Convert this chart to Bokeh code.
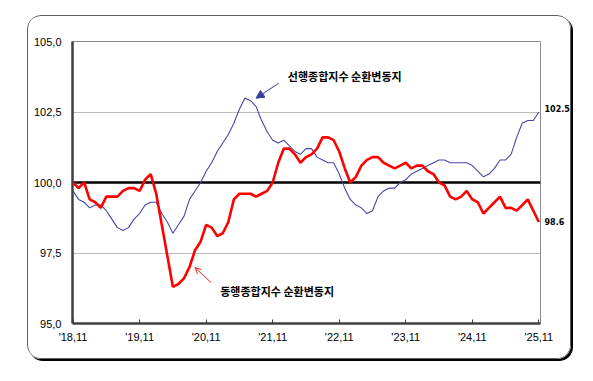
from bokeh.plotting import figure
from bokeh.models import FixedTicker, Span, Label, Arrow, NormalHead, OpenHead, ColumnDataSource, LinearAxis
from bokeh.embed import file_html
from bokeh.resources import INLINE

# ---- data (monthly, 2018.11 .. 2025.11) ----
coincident = [100.0, 99.8, 100.0, 99.4, 99.3, 99.1, 99.5, 99.5, 99.5, 99.7,
              99.8, 99.8, 99.7, 100.1, 100.3, 99.6, 98.5, 97.4, 96.3, 96.4,
              96.6, 97.0, 97.6, 97.9, 98.5, 98.4, 98.1, 98.2, 98.6, 99.4,
              99.6, 99.6, 99.6, 99.5, 99.6, 99.7, 100.0, 100.7, 101.2, 101.2,
              101.0, 100.7, 100.9, 101.0, 101.2, 101.6, 101.6, 101.5, 101.1, 100.5,
              100.0, 100.2, 100.6, 100.8, 100.9, 100.9, 100.7, 100.6, 100.5, 100.6,
              100.7, 100.5, 100.6, 100.6, 100.4, 100.3, 100.0, 99.9, 99.5, 99.4,
              99.5, 99.7, 99.4, 99.3, 98.9, 99.1, 99.3, 99.5, 99.1, 99.1,
              99.0, 99.2, 99.4, 99.0, 98.6]
leading = [99.7, 99.4, 99.3, 99.1, 99.2, 99.2, 99.0, 98.7, 98.4, 98.3,
           98.4, 98.7, 98.9, 99.2, 99.3, 99.3, 98.9, 98.6, 98.2, 98.5,
           98.8, 99.4, 99.7, 100.0, 100.4, 100.7, 101.1, 101.4, 101.7, 102.1,
           102.6, 103.0, 102.9, 102.7, 102.2, 101.8, 101.5, 101.4, 101.5, 101.3,
           101.1, 101.0, 101.2, 101.2, 100.9, 100.8, 100.7, 100.7, 100.3, 99.8,
           99.4, 99.2, 99.1, 98.9, 99.0, 99.5, 99.7, 99.8, 99.8, 100.0,
           100.1, 100.3, 100.4, 100.5, 100.6, 100.7, 100.8, 100.8, 100.7, 100.7,
           100.7, 100.7, 100.6, 100.4, 100.2, 100.3, 100.5, 100.8, 100.8, 101.0,
           101.6, 102.1, 102.2, 102.2, 102.5]
month_index = list(range(len(coincident)))

x_tick_positions = [0, 12, 24, 36, 48, 60, 72, 84]
x_tick_labels = ["'18,11", "'19,11", "'20,11", "'21,11", "'22,11", "'23,11", "'24,11", "'25,11"]
y_tick_values = [95.0, 97.5, 100.0, 102.5, 105.0]
y_tick_labels = ["95,0", "97,5", "100,0", "102,5", "105,0"]
leading_name = "선행종합지수 순환변동지"
coincident_name = "동행종합지수 순환변동지"

source = ColumnDataSource(data=dict(x=month_index, lead=leading, coin=coincident))

p = figure(width=544, height=344, x_range=(-0.1, 84.3), y_range=(95, 105),
           output_backend="svg", toolbar_location=None,
           min_border_left=44, min_border_right=31, min_border_top=25, min_border_bottom=37)
p.styles = {"border": "1px solid #606060", "border-radius": "14px",
            "box-shadow": "2px 2px 0px 0px #000000", "overflow": "hidden",
            "transform": "translate(27px, 15px)"}
p.border_fill_color = "white"
p.background_fill_color = "white"
p.outline_line_color = "#8c8c8c"
p.outline_line_width = 1

# axes
p.xaxis.ticker = FixedTicker(ticks=x_tick_positions)
p.xaxis.major_label_overrides = {t: l for t, l in zip(x_tick_positions, x_tick_labels)}
p.xaxis.axis_line_color = "#404040"
p.xaxis.axis_line_width = 2.5
p.xaxis.major_tick_in = 4
p.xaxis.major_tick_out = 0
p.xaxis.major_tick_line_color = "#404040"
p.xaxis.minor_tick_line_color = None
p.xaxis.major_label_standoff = 7
p.xaxis.major_label_text_font = "Liberation Sans"
p.xaxis.major_label_text_font_size = "11px"
p.xaxis.major_label_text_color = "black"

p.yaxis.ticker = FixedTicker(ticks=y_tick_values)
p.yaxis.major_label_overrides = {t: l for t, l in zip(y_tick_values, y_tick_labels)}
p.yaxis.axis_line_color = "#404040"
p.yaxis.axis_line_width = 2.5
p.yaxis.major_tick_in = 0
p.yaxis.major_tick_out = 0
p.yaxis.minor_tick_line_color = None
p.yaxis.major_label_standoff = 11
p.yaxis.major_label_text_font = "Liberation Sans"
p.yaxis.major_label_text_font_size = "11px"
p.yaxis.major_label_text_color = "black"

# end-value labels as a right axis
end_pos = [leading[-1] + 0.12, coincident[-1] + 0.02]
end_axis = LinearAxis(ticker=FixedTicker(ticks=end_pos),
                      major_label_overrides={end_pos[0]: f"{leading[-1]:.1f}", end_pos[1]: f"{coincident[-1]:.1f}"},
                      axis_line_color=None, major_tick_in=0, major_tick_out=0, minor_tick_line_color=None,
                      major_label_standoff=4, major_label_text_font="DejaVu Sans",
                      major_label_text_font_style="bold", major_label_text_font_size="8px",
                      major_label_text_color="black")
p.add_layout(end_axis, "right")

p.xgrid.visible = False
p.ygrid.ticker = FixedTicker(ticks=[97.5, 102.5])
p.ygrid.grid_line_color = "#bcbcbc"
p.ygrid.grid_line_width = 1.2

base = Span(location=100, dimension="width", line_color="black", line_width=2.5, level="underlay")
p.add_layout(base)

p.line("x", "lead", source=source, line_color="#4646a8", line_width=1.1)
p.line("x", "coin", source=source, line_color="#ff0000", line_width=2.6)

# annotations
p.add_layout(Arrow(end=NormalHead(size=8, fill_color="#3a3a9a", line_color="#3a3a9a"),
                   x_start=37.1, y_start=103.52, x_end=33.0, y_end=102.99,
                   line_color="#3a3a9a", line_width=1))
p.add_layout(Arrow(end=OpenHead(size=6, line_color="#ff2020", line_width=1),
                   x_start=24.9, y_start=96.45, x_end=22.0, y_end=96.98,
                   line_color="#ff2020", line_width=1))

p.add_layout(Label(x=49.0, y=103.77, text=leading_name, text_align="center", text_baseline="middle",
                   text_font="Noto Sans CJK KR", text_font_style="bold", text_font_size="11px",
                   text_color="black"))
p.add_layout(Label(x=36.8, y=96.14, text=coincident_name, text_align="center", text_baseline="middle",
                   text_font="Noto Sans CJK KR", text_font_style="bold", text_font_size="11px",
                   text_color="black"))

open("out.html", "w").write(file_html(p, INLINE))
